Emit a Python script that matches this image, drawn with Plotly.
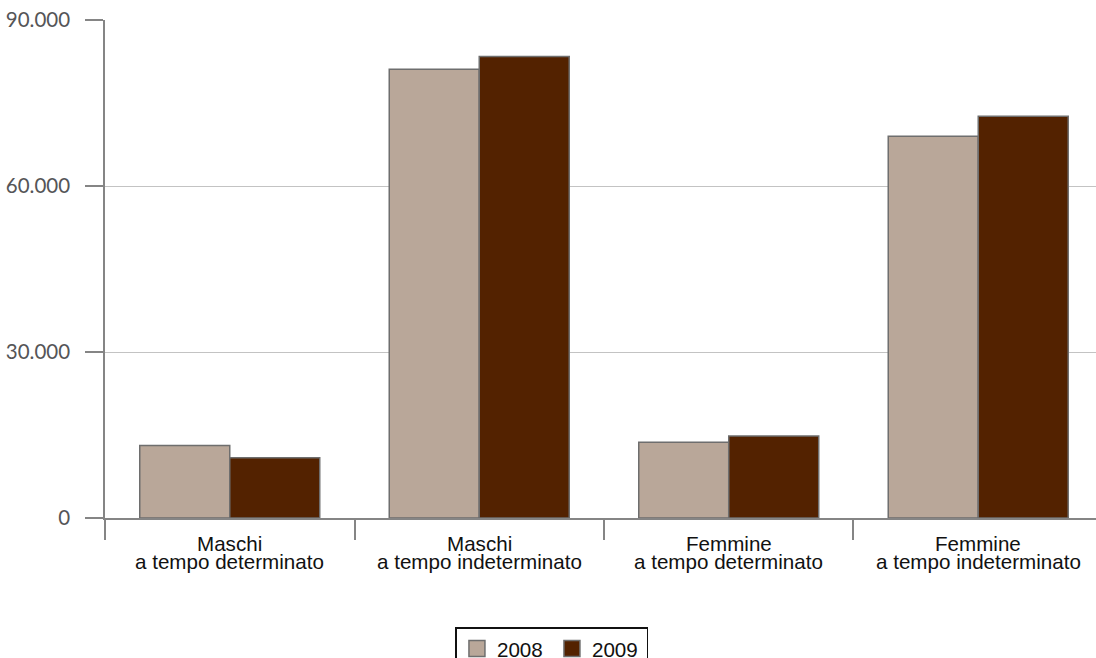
import plotly.graph_objects as go

# Occupati per tipo di contratto e sesso
categorie = ["Maschi det", "Maschi indet", "Femmine det", "Femmine indet"]
etichetta_riga1 = ["Maschi", "Maschi", "Femmine", "Femmine"]
etichetta_riga2 = ["a tempo determinato", "a tempo indeterminato",
                   "a tempo determinato", "a tempo indeterminato"]
valori_2008 = [13100, 81100, 13700, 69000]
valori_2009 = [10900, 83400, 14800, 72600]
anni = ["2008", "2009"]
colori = ["#b9a799", "#532200"]
tick_y = [0, 30000, 60000, 90000]

bordo = "#6e6e6e"
asse = "#858585"

fig = go.Figure()
for anno, valori, colore in zip(anni, [valori_2008, valori_2009], colori):
    fig.add_trace(go.Bar(
        x=categorie, y=valori, name=anno, showlegend=False,
        marker=dict(color=colore, line=dict(color=bordo, width=1.5)),
    ))
    # voce di legenda con quadratino più grande
    fig.add_trace(go.Scatter(
        x=[None], y=[None], mode="markers", name=anno,
        marker=dict(symbol="square", size=16, color=colore,
                    line=dict(color=bordo, width=1.5)),
    ))

# etichette delle categorie su due righe ravvicinate
for cat, r1, r2 in zip(categorie, etichetta_riga1, etichetta_riga2):
    for testo, yp in ((r1, -0.052), (r2, -0.087)):
        fig.add_annotation(
            x=cat, y=yp, xref="x", yref="paper", text=testo,
            showarrow=False, xanchor="center", yanchor="middle",
            font=dict(family="Liberation Sans, Arial, sans-serif", size=20.6, color="#111111"),
        )

fig.update_layout(
    width=1096, height=658,
    margin=dict(l=105, r=0, t=20, b=140),
    paper_bgcolor="white", plot_bgcolor="white",
    separators=",.",
    barmode="group", bargap=0.2786, bargroupgap=0,
    legend=dict(
        orientation="h", xref="container", yref="container",
        x=0.5036, xanchor="center", y=0.047, yanchor="top",
        bordercolor="#111111", borderwidth=1.5,
        font=dict(family="Liberation Sans, Arial, sans-serif", size=20.6, color="#111111"),
        itemsizing="trace", entrywidth=50, entrywidthmode="pixels",
    ),
)

fig.update_xaxes(
    range=[-0.5, 3.472], showgrid=False, showticklabels=False,
    showline=True, linecolor=asse, linewidth=1.5,
    ticks="outside", tickson="boundaries", ticklen=20,
    tickcolor=asse, tickwidth=1.5,
)
fig.update_yaxes(
    range=[0, 90000], tickvals=tick_y, tickformat=",d",
    showgrid=True, gridcolor="#c3c3c3", gridwidth=1,
    zeroline=False, showline=True, linecolor=asse, linewidth=1.5,
    ticks="outside", ticklen=18, tickcolor=asse, tickwidth=1.5,
    ticklabelstandoff=11,
    tickfont=dict(family="Lato", size=20.5, color="#555557"),
)

fig.write_html("out.html")
